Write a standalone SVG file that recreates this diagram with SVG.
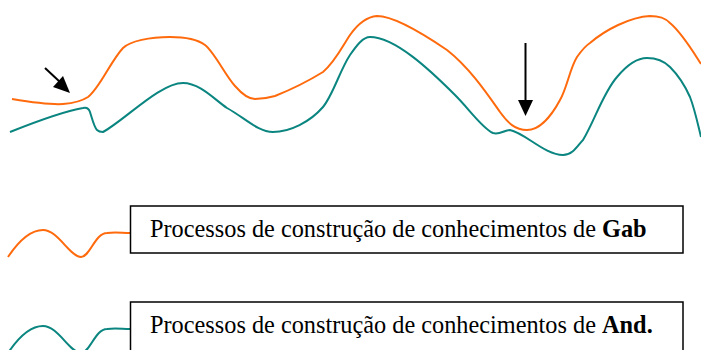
<svg xmlns="http://www.w3.org/2000/svg" width="701" height="350" viewBox="0 0 701 350">
<style>
.o{fill:none;stroke:#ff6a0d;stroke-width:2}
.t{fill:none;stroke:#0b8580;stroke-width:2}
.box{fill:#fff;stroke:#000;stroke-width:1.5}
.lbl{font-family:"Liberation Serif","Times New Roman",serif;font-size:24.3px;fill:#000}
.arr{stroke:#000;stroke-width:2;fill:none}
</style>
<g id="curves">
<path id="gab-curve" class="o" d="M12,99 C30,102 48,105 63,104 C75,103 82,101 88,97 C100,88 110,62 123,48 C130,41 150,37 170,37 C185,37 197,39 205,45 C215,53 225,75 235,86 C242,94 248,99 255,99 C262,99 268,98 275,96 C290,90 310,80 323,72 C335,62 342,47 350,35 C357,25 365,17 377,16 C395,16 425,35 447,50 C470,68 488,95 500,112 C508,123 515,130 527,130 C540,130 552,115 560,100 C567,88 570,68 577,57 C582,50 585,46 590,43 C605,30 630,17 650,16 C660,16 665,18 670,23 C682,33 692,50 701,64"/>
<path id="and-curve" class="t" d="M10,132 C30,124 60,112 83,108 C87,107 89,109 90,112 C92,118 94,127 97,130 C99,132 101,132 103,132 C125,120 160,83 183,83 C200,83 215,100 227,108 C245,118 258,132 273,132 C290,132 310,122 323,107 C333,95 340,70 350,55 C357,45 363,37 370,37 C395,37 430,70 455,95 C470,110 482,128 493,133 C500,135 504,130 510,130 C525,133 545,155 563,155 C573,155 578,145 583,140 C595,120 603,93 617,77 C627,65 637,58 647,58 C657,58 665,62 670,67 C680,77 686,88 690,97 C695,110 698,125 701,137"/>
</g>
<g id="connectors">
<line class="arr" x1="45" y1="68" x2="60" y2="82"/>
<polygon points="70,93 53,87 63,76" fill="#000"/>
<line class="arr" x1="525.5" y1="43" x2="525.5" y2="102"/>
<polygon points="525.5,116 518,100 533,100" fill="#000"/>
</g>
<g id="legend-gab">
<path class="o" d="M8,257 C18,242 30,230 43,230 C58,230 70,257 81,257 C90,257 95,233 107,233 C115,232 122,233 130,233"/>
<rect class="box" x="130.5" y="206" width="552.5" height="47"/>
<text class="lbl" x="150" y="237">Processos de construção de conhecimentos de <tspan font-weight="bold">Gab</tspan></text>
</g>
<g id="legend-and">
<path class="t" d="M8,353 C18,338 30,326 43,326 C58,326 70,353 81,353 C90,353 95,329 107,329 C115,328 122,329 130,329"/>
<rect class="box" x="130.5" y="302" width="552.5" height="50"/>
<text class="lbl" x="150" y="333">Processos de construção de conhecimentos de <tspan font-weight="bold">And.</tspan></text>
</g>
</svg>
